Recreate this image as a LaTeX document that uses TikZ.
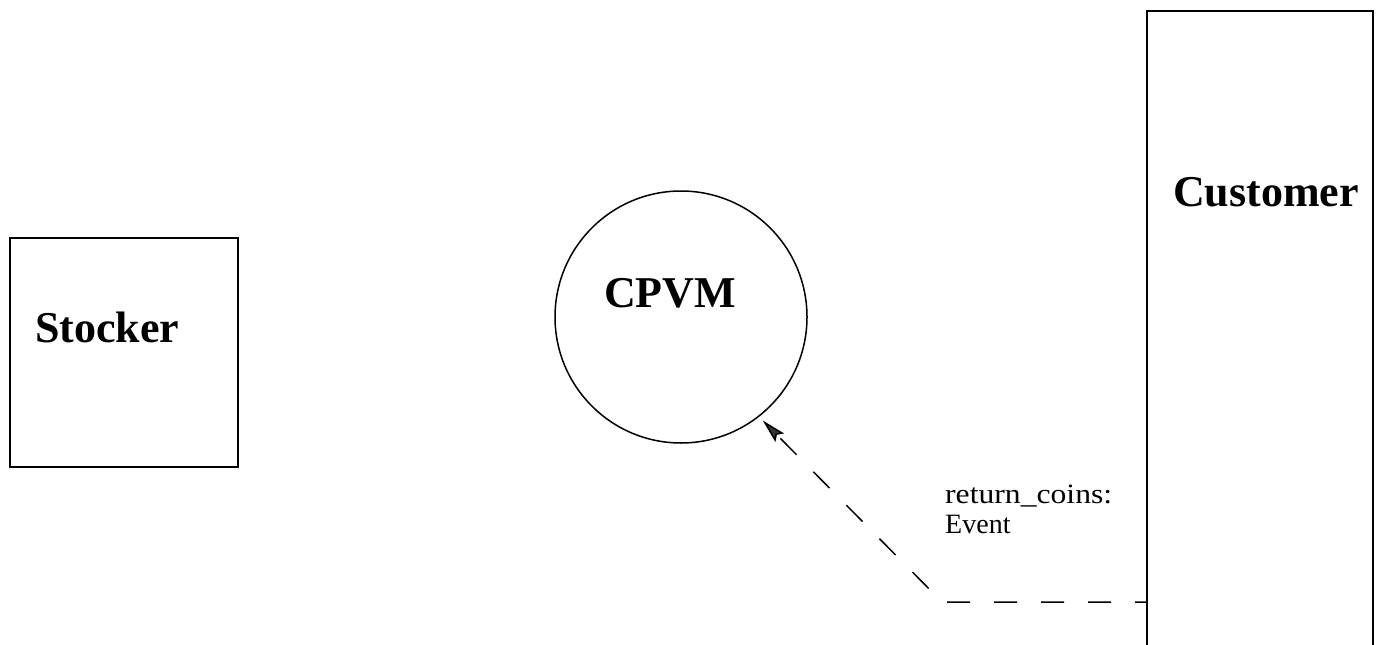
\documentclass[tikz,border=0pt]{standalone}
\usepackage{fontspec}
\setmainfont{Liberation Serif}
\usetikzlibrary{arrows.meta}
\begin{document}
\begin{tikzpicture}[x=1pt,y=-1pt,
  box/.style={draw, line width=1.5pt, inner sep=0pt, outer sep=0pt, anchor=north west},
  title/.style={font=\fontsize{44}{50}\selectfont\bfseries, inner sep=0pt, anchor=base west},
  flow/.style={line width=1.5pt, dash pattern=on 23pt off 24pt, dash phase=11pt,
    -{Stealth[length=24pt,width=12pt,inset=4pt,fill=black!80]}},
  note/.style={font=\fontsize{28}{30}\selectfont, inner sep=0pt, align=left, anchor=base west}]
\useasboundingbox (0,0) rectangle (1381,645);
\clip (0,0) rectangle (1381,645);

% Stocker actor
\node[box, minimum width=228pt, minimum height=229pt] (stockerbox) at (10,238) {};
\node[title] (stocker) at (35,342) {Stocker};

% the system itself
\node[draw, circle, line width=1.5pt, minimum size=252pt, inner sep=0pt, outer sep=0pt] (cpvm) at (681,317) {};
\node[title, anchor=base] (cpvmlabel) at (670,307) {CPVM};

% Customer actor (runs off the bottom edge)
\node[box, minimum width=226pt, minimum height=700pt] (customer) at (1147,11) {};
\node[title] (customerlabel) at (1173,206) {Customer};

% event flow from Customer to the system
\coordinate (bend) at (942,602);
\draw[flow, shorten >=6pt] (customer.west |- bend) -- (bend) -- (cpvm.-52.6);
\node[note] (evlabel) at (945,533) {\scalebox{1.13}[1]{return\_coins:}\\Event};
\end{tikzpicture}
\end{document}
